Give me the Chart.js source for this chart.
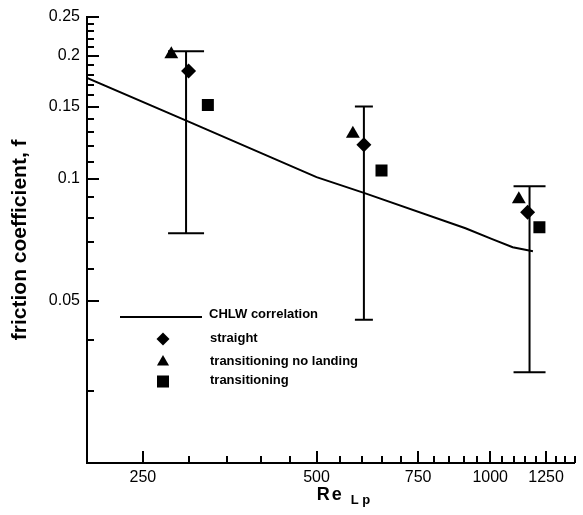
<!DOCTYPE html>
<html>
<head>
<meta charset="utf-8">
<script src="https://cdn.jsdelivr.net/npm/chart.js@4.4.0/dist/chart.umd.min.js"></script>
<style>
  html, body { margin: 0; padding: 0; background: #fff; }
  #wrap { width: 583px; height: 515px; position: relative; }
</style>
</head>
<body>
<div id="wrap"><canvas id="FrictionChart"></canvas></div>
<script>
// tick values
const xMajorTicks = [250, 500, 750, 1000, 1250];
const xMinorTicks = [300, 350, 400, 450, 550, 600, 650, 700, 800, 850, 900, 950, 1050, 1100, 1150, 1200, 1300, 1350, 1400];
const yMajorTicks = [0.05, 0.1, 0.15, 0.2, 0.25];
const yMinorTicks = [0.03, 0.04, 0.06, 0.07, 0.08, 0.09, 0.11, 0.12, 0.13, 0.14, 0.16, 0.17, 0.18, 0.19, 0.21, 0.22, 0.23, 0.24];

// CHLW correlation curve
const chlwRe = [200, 300, 500, 604, 906, 1008, 1094, 1186];
const chlwF = [0.1766, 0.138, 0.1008, 0.0922, 0.0755, 0.071, 0.0678, 0.0663];

// measured points
const straightRe = [300, 604, 1161];
const straightF = [0.1837, 0.1211, 0.0826];
const noLandingRe = [280, 578, 1121];
const noLandingF = [0.2021, 0.1288, 0.089];
const transRe = [324, 648, 1217];
const transF = [0.1517, 0.1046, 0.0759];

// error bars
const errRe = [297, 604, 1170];
const errLow = [0.0734, 0.045, 0.0334];
const errHigh = [0.2056, 0.1503, 0.0957];

const FONT = '"Liberation Sans", Arial, Helvetica, sans-serif';
const toPoints = (xs, ys) => xs.map((x, i) => ({ x: x, y: ys[i] }));

const overlayPlugin = {
  id: "overlay",
  beforeDatasetsDraw(chart) {
    const { ctx, scales } = chart;
    const capHalf = [18, 9, 16];
    ctx.save();
    ctx.strokeStyle = "#000";
    ctx.lineWidth = 2;
    errRe.forEach((re, i) => {
      const x = scales.x.getPixelForValue(re);
      const yl = scales.y.getPixelForValue(errLow[i]);
      const yh = scales.y.getPixelForValue(errHigh[i]);
      ctx.beginPath();
      ctx.moveTo(x, yl);
      ctx.lineTo(x, yh);
      ctx.moveTo(x - capHalf[i], yl);
      ctx.lineTo(x + capHalf[i], yl);
      ctx.moveTo(x - capHalf[i], yh);
      ctx.lineTo(x + capHalf[i], yh);
      ctx.stroke();
    });
    ctx.restore();
  },
  afterDraw(chart) {
    const { ctx, scales, chartArea } = chart;
    ctx.save();
    ctx.strokeStyle = "#000";
    ctx.fillStyle = "#000";
    ctx.lineWidth = 2;

    // inward tick marks
    const tick = (len, isX, v) => {
      ctx.beginPath();
      if (isX) {
        const x = Math.round(scales.x.getPixelForValue(v));
        ctx.moveTo(x, chartArea.bottom);
        ctx.lineTo(x, chartArea.bottom - len);
      } else {
        const y = Math.round(scales.y.getPixelForValue(v));
        ctx.moveTo(chartArea.left, y);
        ctx.lineTo(chartArea.left + len, y);
      }
      ctx.stroke();
    };
    xMajorTicks.forEach(v => tick(12, true, v));
    xMinorTicks.forEach(v => tick(7, true, v));
    yMajorTicks.forEach(v => tick(12, false, v));
    yMinorTicks.forEach(v => tick(7, false, v));

    // x axis title with subscript
    const cx = (chartArea.left + chartArea.right) / 2;
    ctx.textBaseline = "alphabetic";
    ctx.textAlign = "left";
    ctx.font = "bold 18px " + FONT;
    ctx.letterSpacing = "2px";
    ctx.fillText("Re", cx - 14, 500);
    ctx.letterSpacing = "0px";
    ctx.font = "bold 13px " + FONT;
    ctx.fillText("L p", cx + 20, 504);

    // legend
    const ds = chart.data.datasets;
    ctx.beginPath();
    ctx.moveTo(120, 317);
    ctx.lineTo(202, 317);
    ctx.stroke();
    ctx.font = "bold 13px " + FONT;
    ctx.fillText(ds[0].label, 209, 318);
    const rows = [
      { d: ds[1], y: 339, ty: 342, r: 6.5 },
      { d: ds[2], y: 362, ty: 365, r: 7 },
      { d: ds[3], y: 381.5, ty: 384, r: 8.5 },
    ];
    rows.forEach(row => {
      Chart.helpers.drawPoint(ctx, { pointStyle: row.d.pointStyle, radius: row.r, rotation: 0, borderWidth: 0 }, 163, row.y);
      ctx.fillText(row.d.label, 210, row.ty);
    });
    ctx.restore();
  },
};

const chartConfig = {
  type: "scatter",
  data: {
    datasets: [
      {
        label: "CHLW correlation",
        type: "line",
        data: toPoints(chlwRe, chlwF),
        borderColor: "#000",
        borderWidth: 2,
        pointRadius: 0,
        tension: 0,
        fill: false,
      },
      {
        label: "straight",
        data: toPoints(straightRe, straightF),
        pointStyle: "rectRot",
        pointRadius: 7.5,
        backgroundColor: "#000",
        borderWidth: 0,
      },
      {
        label: "transitioning no landing",
        data: toPoints(noLandingRe, noLandingF),
        pointStyle: "triangle",
        pointRadius: 8,
        backgroundColor: "#000",
        borderWidth: 0,
      },
      {
        label: "transitioning",
        data: toPoints(transRe, transF),
        pointStyle: "rect",
        pointRadius: 8.5,
        backgroundColor: "#000",
        borderWidth: 0,
      },
    ],
  },
  options: {
    responsive: true,
    maintainAspectRatio: false,
    animation: false,
    layout: {
      padding: { top: 14, right: 1, left: 0, bottom: 0 },
    },
    plugins: {
      legend: { display: false },
      tooltip: { enabled: false },
    },
    scales: {
      x: {
        type: "logarithmic",
        position: "bottom",
        min: 200,
        max: 1400,
        grid: { display: false, drawTicks: false },
        border: { display: true, color: "#000", width: 2 },
        ticks: {
          color: "#000",
          padding: 5,
          autoSkip: false,
          maxRotation: 0,
          font: { family: FONT, size: 16 },
          callback: val => String(val),
        },
        afterBuildTicks: scale => {
          scale.ticks = xMajorTicks.map(v => ({ value: v }));
        },
        afterFit: scale => {
          scale.height = 52;
        },
      },
      y: {
        type: "logarithmic",
        position: "left",
        min: 0.02,
        max: 0.25,
        grid: { display: false, drawTicks: false },
        border: { display: true, color: "#000", width: 2 },
        ticks: {
          color: "#000",
          padding: 7,
          autoSkip: false,
          font: { family: FONT, size: 16 },
          callback: val => String(val),
        },
        title: {
          display: true,
          text: "friction coefficient, f",
          color: "#000",
          font: { family: FONT, size: 21, weight: "bold" },
          padding: { top: 8, bottom: 0 },
        },
        afterBuildTicks: scale => {
          scale.ticks = yMajorTicks.map(v => ({ value: v }));
        },
        afterFit: scale => {
          scale.width = 87;
        },
      },
    },
  },
  plugins: [overlayPlugin],
};

new Chart(document.getElementById("FrictionChart"), chartConfig);
</script>
</body>
</html>
